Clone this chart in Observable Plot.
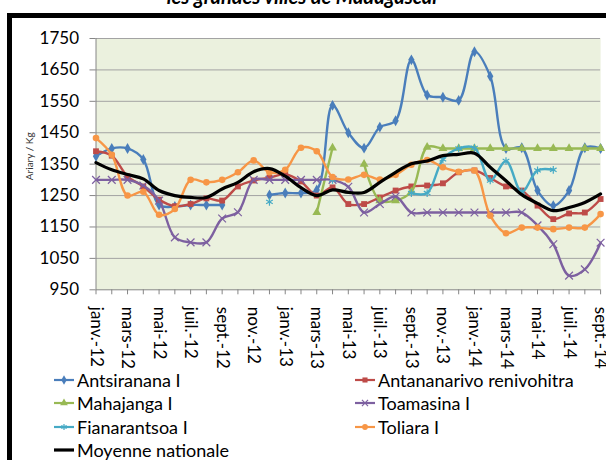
<!DOCTYPE html>
<html><head><meta charset="utf-8">
<script src="https://cdn.jsdelivr.net/npm/d3@7"></script>
<script src="https://cdn.jsdelivr.net/npm/@observablehq/plot@0.6"></script>
<style>
body{margin:0;background:#fff}
#wrap{position:relative;width:606px;height:460px;overflow:hidden;font-family:Lato,sans-serif;background:#fff}
#title{position:absolute;left:0;width:606px;top:-16px;text-align:center;font:italic bold 20px Lato;color:#000;white-space:nowrap}
#frame{position:absolute;left:7px;top:13px;width:800px;height:600px;border-top:5px solid #000;border-left:5px solid #000;box-sizing:border-box}
#chart{position:absolute;left:0;top:0}
.leg{position:absolute;height:22px;display:flex;align-items:center;font:18px Lato;color:#000;white-space:nowrap}
.leg svg{display:block;margin-right:2px}
</style></head>
<body><div id="wrap">
<div id="title">les grandes villes de Madagascar</div>
<div id="frame"></div>
<div id="chart"></div>
<div id="legend"></div>
</div>
<script>
const months = ["janv.-12","févr.-12","mars-12","avr.-12","mai-12","juin-12","juil.-12","août-12","sept.-12","oct.-12","nov.-12","déc.-12",
"janv.-13","févr.-13","mars-13","avr.-13","mai-13","juin-13","juil.-13","août-13","sept.-13","oct.-13","nov.-13","déc.-13",
"janv.-14","févr.-14","mars-14","avr.-14","mai-14","juin-14","juil.-14","août-14","sept.-14"];
const yTicks = [950,1050,1150,1250,1350,1450,1550,1650,1750];

const antsiranana = [1375,1400,1400,1365,1220,1215,1220,1220,1220,null,null,1252,1258,1258,1268,1537,1450,1401,1468,1488,1682,1570,1563,1553,1708,1630,1400,1402,1266,1218,1266,1402,1400];
const antananarivo = [1391,1377,1311,1279,1237,1216,1223,1241,1234,1279,1298,1307,1318,1295,1250,1276,1223,1223,1244,1266,1279,1282,1289,1324,1330,1306,1279,1266,1218,1175,1193,1196,1239];
const mahajanga = [null,null,null,null,null,null,null,null,null,null,null,null,null,null,1196,1402,null,1350,1234,1234,1262,1404,1400,1400,1400,1400,1400,1400,1400,1400,1400,1400,1400];
const toamasina = [1300,1300,1300,1282,1234,1117,1101,1101,1177,1197,1300,1300,1300,1300,1300,1300,1278,1196,1223,1247,1196,1196,1196,1196,1196,1196,1196,1196,1155,1095,995,1015,1100];
const fianarantsoa = [null,null,null,null,null,null,null,null,null,null,null,1230,null,null,null,1300,null,null,null,null,1258,1258,1365,1400,1402,1298,1360,1262,1330,1332,null,null,null];
const toliara = [1433,1380,1250,1262,1189,1207,1300,1292,1300,1324,1362,1324,1332,1402,1391,1309,1301,1316,1301,1316,1348,1363,1340,1326,1330,1186,1130,1148,1148,1143,1148,1148,1191];
const moyenne = [1355,1332,1317,1303,1266,1250,1244,1244,1271,1292,1326,1336,1312,1275,1250,1268,1260,1260,1292,1324,1351,1360,1377,1381,1385,1340,1297,1253,1225,1202,1212,1228,1255];

const seriesNames = ["Antsiranana I","Antananarivo renivohitra","Mahajanga I","Toamasina I","Fianarantsoa I","Toliara I","Moyenne nationale"];
const seriesValues = [antsiranana, antananarivo, mahajanga, toamasina, fianarantsoa, toliara, moyenne];
const seriesColors = ["#4A7EBB","#BE4B48","#98B954","#7D60A0","#46AAC5","#F79646","#000000"];
const seriesSymbols = ["diamond","square","triangle","times","asterisk","circle",null];

const series = seriesNames.map((name, k) => ({
  name, color: seriesColors[k], symbol: seriesSymbols[k],
  rows: seriesValues[k].map((v, i) => ({name, i, v}))
}));

const marks = [
  Plot.frame({fill: "#EBF1DE", stroke: "none"}),
  Plot.gridY(yTicks.slice(1), {stroke: "#A3A3A3", strokeOpacity: 1, strokeWidth: 1}),
  Plot.ruleX([0], {stroke: "#868686"}),
  Plot.ruleY([950], {stroke: "#868686"}),
  Plot.axisY(yTicks, {tickSize: 6, tickPadding: 11, tickFormat: d3.format("d"), stroke: "#868686", fill: "#000", label: null}),
  Plot.axisX(d3.range(months.length), {tickFormat: i => i % 2 === 0 ? months[i] : "", tickRotate: 90, tickSize: 5, tickPadding: 12, stroke: "#868686", fill: "#000", label: null}),
  Plot.text(["Ariary / Kg"], {text: d => d, frameAnchor: "left", dx: -66, dy: 16, rotate: -90, fontSize: 10, fill: "#333"})
];
for (const s of series) {
  const isAvg = !s.symbol;
  marks.push(Plot.line(s.rows, {x: "i", y: "v", stroke: s.color, strokeWidth: isAvg ? 3.2 : 2.4, curve: "catmull-rom"}));
  if (s.symbol) {
    const stroked = s.symbol === "times" || s.symbol === "asterisk";
    marks.push(Plot.dot(s.rows.filter(d => d.v != null), {
      x: "i", y: "v", symbol: () => s.symbol, r: stroked ? 3.6 : 3.3,
      ...(stroked ? {stroke: s.color, fill: "none", strokeWidth: 1.2} : {fill: s.color, stroke: "none"})
    }));
  }
}

const chart = Plot.plot({
  width: 606, height: 372,
  marginLeft: 95.5, marginRight: 5.9, marginTop: 38, marginBottom: 82.7,
  x: {domain: [0, 32], label: null},
  y: {domain: [950, 1750], label: null},
  symbol: {type: "identity"},
  style: {fontFamily: "Lato", fontSize: "17px", background: "transparent", overflow: "visible"},
  marks
});
document.getElementById("chart").appendChild(chart);

// legend
const symMap = {diamond: d3.symbolDiamond, square: d3.symbolSquare, triangle: d3.symbolTriangle, times: d3.symbolTimes, asterisk: d3.symbolAsterisk, circle: d3.symbolCircle};
const legPos = [[54,380],[355,380],[54,403],[355,403],[54,427],[355,427],[54,450]];
const legend = document.getElementById("legend");
series.forEach((s, k) => {
  const [lx, ly] = legPos[k];
  const div = document.createElement("div");
  div.className = "leg";
  div.style.left = lx + "px";
  div.style.top = (ly - 11) + "px";
  const svg = d3.create("svg").attr("width", 21).attr("height", 14);
  svg.append("line").attr("x1", 0).attr("x2", 20).attr("y1", 7).attr("y2", 7)
    .attr("stroke", s.color).attr("stroke-width", s.symbol ? 2.2 : 3.2);
  if (s.symbol) {
    const stroked = s.symbol === "times" || s.symbol === "asterisk";
    svg.append("path").attr("transform", "translate(10,7)")
      .attr("d", d3.symbol(symMap[s.symbol], 26)())
      .attr("fill", stroked ? "none" : s.color)
      .attr("stroke", stroked ? s.color : "none").attr("stroke-width", 1.2);
  }
  div.appendChild(svg.node());
  const span = document.createElement("span");
  span.textContent = s.name;
  div.appendChild(span);
  legend.appendChild(div);
});
</script>
</body></html>
